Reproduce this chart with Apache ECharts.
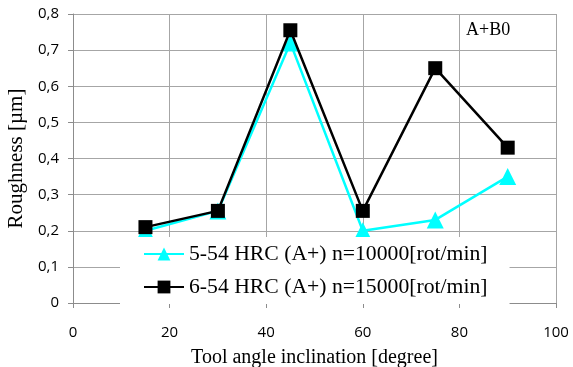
<!DOCTYPE html>
<html><head><meta charset="utf-8">
<script src="https://cdn.jsdelivr.net/npm/echarts@6/dist/echarts.min.js"></script>
<style>html,body{margin:0;padding:0;background:#fff}#c{width:573px;height:367px}</style>
</head><body><div id="c"></div>
<script>
const angles = [15, 30, 45, 60, 75, 90];
const series1Name = '5-54 HRC (A+) n=10000[rot/min]';
const series1 = [0.20, 0.255, 0.72, 0.20, 0.23, 0.35];
const series2Name = '6-54 HRC (A+) n=15000[rot/min]';
const series2 = [0.21, 0.255, 0.755, 0.255, 0.65, 0.43];
const xTitle = 'Tool angle inclination [degree]';
const yTitle = 'Roughness [µm]';
const note = 'A+B0';

const chart = echarts.init(document.getElementById('c'));
const serif = 'Liberation Serif';
const sans = 'Open Sans';
chart.setOption({
  animation: false,
  backgroundColor: '#fff',
  grid: {left: 73, right: 17, top: 14, bottom: 64, outerBoundsMode: 'none', containLabel: false},
  graphic: [{type: 'text', left: 466, top: 21, style: {text: note, font: '18px "Liberation Serif"', fill: '#000'}}],
  legend: {
    orient: 'vertical', left: 120, top: 237,
    backgroundColor: '#fff', padding: [6, 22, 6, 23], itemGap: 11,
    itemWidth: 40, itemHeight: 16,
    textStyle: {fontFamily: serif, fontSize: 21.7, color: '#000', lineHeight: 22},
    data: [series1Name, series2Name]
  },
  xAxis: {
    type: 'value', min: 0, max: 100, interval: 20,
    name: xTitle, nameLocation: 'middle', nameGap: 45,
    nameTextStyle: {fontFamily: serif, fontSize: 20, color: '#000'},
    axisLine: {lineStyle: {color: '#8c8c8c', width: 1}},
    axisTick: {show: true, length: 5, lineStyle: {color: '#8c8c8c'}},
    axisLabel: {fontFamily: sans, fontSize: 15, color: '#000', margin: 22},
    splitLine: {show: true, lineStyle: {color: '#a6a6a6', width: 1}}
  },
  yAxis: {
    type: 'value', min: 0, max: 0.8, interval: 0.1,
    name: yTitle, nameLocation: 'middle', nameGap: 45,
    nameTextStyle: {fontFamily: serif, fontSize: 21, color: '#000'},
    axisLine: {show: true, lineStyle: {color: '#8c8c8c', width: 1}},
    axisTick: {show: true, length: 5, lineStyle: {color: '#8c8c8c'}},
    axisLabel: {fontFamily: sans, fontSize: 15, color: '#000', margin: 14,
      formatter: v => v === 0 ? '0' : v.toFixed(1).replace('.', ',')},
    splitLine: {show: true, lineStyle: {color: '#a6a6a6', width: 1}}
  },
  series: [
    {name: series1Name, type: 'line', data: angles.map((a, i) => [a, series1[i]]),
     symbol: 'triangle', symbolSize: 17, color: '#00ffff',
     lineStyle: {color: '#00ffff', width: 2.5}, itemStyle: {color: '#00ffff'}, z: 2},
    {name: series2Name, type: 'line', data: angles.map((a, i) => [a, series2[i]]),
     symbol: 'rect', symbolSize: 14, color: '#000',
     lineStyle: {color: '#000', width: 2.5}, itemStyle: {color: '#000'}, z: 3}
  ]
});
</script></body></html>
